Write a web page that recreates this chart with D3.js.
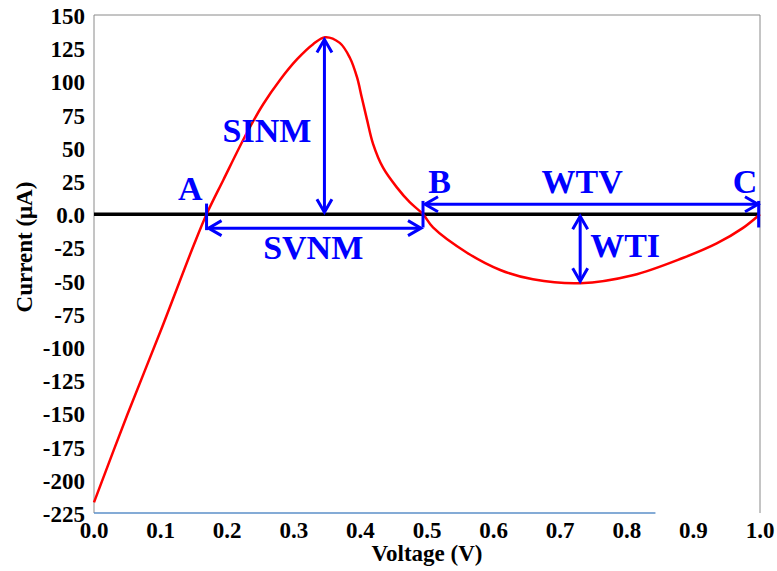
<!DOCTYPE html>
<html>
<head>
<meta charset="utf-8">
<script src="https://cdn.jsdelivr.net/npm/d3@7"></script>
<style>
  body { margin: 0; background: #fff; }
  svg { display: block; }
  text { font-family: 'Liberation Serif', 'Times New Roman', serif; font-weight: bold; }
</style>
</head>
<body>
<svg id="chart" width="777" height="571"></svg>
<script>
// curve: voltage (V) / current (uA)
const voltage = [0, 0.05, 0.1, 0.15, 0.169, 0.194, 0.23, 0.254, 0.279, 0.305, 0.329, 0.347,
  0.369, 0.384, 0.395, 0.402, 0.41, 0.419, 0.434, 0.455, 0.474, 0.494, 0.509, 0.56, 0.61,
  0.659, 0.73, 0.809, 0.884, 0.935, 0.974, 1.0];
const current = [-217, -151, -88, -23, 0, 25.6, 61.7, 82.8, 100.9, 116.7, 128, 133.3,
  129, 118, 103, 88, 71, 53, 35, 20, 9, 0, -10, -29, -42,
  -49, -52, -46, -33, -22, -10.5, 0];

const xTicks = [0, 0.1, 0.2, 0.3, 0.4, 0.5, 0.6, 0.7, 0.8, 0.9, 1.0];
const yTicks = [150, 125, 100, 75, 50, 25, 0, -25, -50, -75, -100, -125, -150, -175, -200, -225];

// annotation arrows (data coords) and labels
const arrows = [
  { name: 'SINM', x1: 0.346, y1: 133, x2: 0.346, y2: 0 },
  { name: 'SVNM', x1: 0.169, y1: -10.5, x2: 0.494, y2: -10.5 },
  { name: 'WTV', x1: 0.494, y1: 7.5, x2: 1.0, y2: 7.5 },
  { name: 'WTI', x1: 0.73, y1: 0, x2: 0.73, y2: -52 },
];
const markers = [
  { v: 0.169, top: 8, bottom: -12 },
  { v: 0.494, top: 10, bottom: -10 },
  { v: 0.998, top: 10, bottom: -10 },
];
const labels = [
  { text: 'A', v: 0.126, i: 10.5 },
  { text: 'B', v: 0.502, i: 15.8 },
  { text: 'C', v: 0.959, i: 15.8 },
  { text: 'WTV', v: 0.672, i: 15.8 },
  { text: 'WTI', v: 0.745, i: -32.4 },
  { text: 'SINM', v: 0.193, i: 54.2 },
  { text: 'SVNM', v: 0.254, i: -33.9 },
];

const svg = d3.select('#chart');
const margin = { top: 15, right: 17, bottom: 58, left: 94 };
const width = 777 - margin.left - margin.right;
const height = 571 - margin.top - margin.bottom;

const g = svg.append('g').attr('transform', `translate(${margin.left},${margin.top})`);

const x = d3.scaleLinear().domain([0, 1]).range([0, width]);
const y = d3.scaleLinear().domain([-225, 150]).range([height, 0]);

// plot frame (gray left/top/right, blue bottom partial)
g.append('path')
  .attr('d', `M0,${height}V0H${width}V${height}`)
  .attr('fill', 'none')
  .attr('stroke', '#8a8a8a')
  .attr('stroke-width', 1);
g.append('line')
  .attr('x1', x(0)).attr('x2', x(0.843))
  .attr('y1', height).attr('y2', height)
  .attr('stroke', '#5b8fc8')
  .attr('stroke-width', 1.5);

// tick labels
g.append('g')
  .selectAll('text')
  .data(yTicks)
  .join('text')
  .attr('x', -9)
  .attr('y', (d) => y(d) + 9)
  .attr('text-anchor', 'end')
  .attr('font-size', 23)
  .text((d) => (d === 0 ? '0.0' : d));

g.append('g')
  .selectAll('text')
  .data(xTicks)
  .join('text')
  .attr('x', (d) => x(d))
  .attr('y', height + 25)
  .attr('text-anchor', 'middle')
  .attr('font-size', 23)
  .text((d) => d.toFixed(1));

// axis titles
svg.append('text')
  .attr('x', margin.left + width / 2)
  .attr('y', 561)
  .attr('text-anchor', 'middle')
  .attr('font-size', 23)
  .text('Voltage (V)');
svg.append('text')
  .attr('transform', 'translate(32,247) rotate(-90)')
  .attr('text-anchor', 'middle')
  .attr('font-size', 23)
  .text('Current (μA)');

// zero line
g.append('line')
  .attr('x1', 0).attr('x2', width)
  .attr('y1', y(0)).attr('y2', y(0))
  .attr('stroke', '#000')
  .attr('stroke-width', 3.5);

// I-V curve
const pts = voltage.map((v, i) => [v, current[i]]);
g.append('path')
  .datum(pts)
  .attr('fill', 'none')
  .attr('stroke', '#ff0000')
  .attr('stroke-width', 2.5)
  .attr('d', d3.line().x((d) => x(d[0])).y((d) => y(d[1])).curve(d3.curveCatmullRom.alpha(0.5)));

// annotations
const blue = '#0000ff';
const head = (px, py, dx, dy) => {
  // chevron at (px,py) pointing along (dx,dy)
  const len = 13, half = 7.5;
  const bx = px - dx * len, by = py - dy * len;
  return `M${bx - dy * half},${by + dx * half}L${px},${py}L${bx + dy * half},${by - dx * half}`;
};

arrows.forEach((a) => {
  const x1 = x(a.x1), y1 = y(a.y1), x2 = x(a.x2), y2 = y(a.y2);
  const L = Math.hypot(x2 - x1, y2 - y1);
  const dx = (x2 - x1) / L, dy = (y2 - y1) / L;
  const inset = 2;
  const sx = x1 + dx * inset, sy = y1 + dy * inset;
  const ex = x2 - dx * inset, ey = y2 - dy * inset;
  g.append('line')
    .attr('x1', sx).attr('y1', sy).attr('x2', ex).attr('y2', ey)
    .attr('stroke', blue).attr('stroke-width', 3);
  g.append('path')
    .attr('d', head(ex, ey, dx, dy) + head(sx, sy, -dx, -dy))
    .attr('fill', 'none')
    .attr('stroke', blue)
    .attr('stroke-width', 3);
});

g.selectAll('.marker')
  .data(markers)
  .join('line')
  .attr('class', 'marker')
  .attr('x1', (d) => x(d.v)).attr('x2', (d) => x(d.v))
  .attr('y1', (d) => y(d.top)).attr('y2', (d) => y(d.bottom))
  .attr('stroke', blue)
  .attr('stroke-width', 3);

g.selectAll('.lbl')
  .data(labels)
  .join('text')
  .attr('class', 'lbl')
  .attr('x', (d) => x(d.v))
  .attr('y', (d) => y(d.i))
  .attr('fill', blue)
  .attr('font-size', 34)
  .text((d) => d.text);
</script>
</body>
</html>
